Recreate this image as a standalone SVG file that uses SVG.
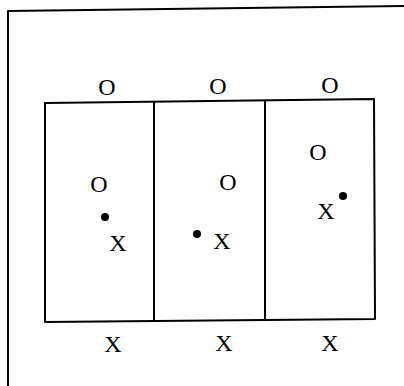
<svg xmlns="http://www.w3.org/2000/svg" width="404" height="386" viewBox="0 0 404 386">
<style>
.ln{fill:none;stroke:#000;stroke-width:2;stroke-linejoin:round}
.t{font-family:"Liberation Serif",serif;font-size:24px;fill:#000;text-anchor:middle}
.d{fill:#000}
</style>
<rect width="404" height="386" fill="#fff"/>
<g id="frame">
<polyline class="ln" points="8,386 8,11 404,6"/>
</g>
<g id="box">
<polygon class="ln" points="45,103 374,99 375,319 45,322"/>
</g>
<g id="connectors">
<line class="ln" x1="154" y1="102" x2="154" y2="321"/>
<line class="ln" x1="265" y1="100" x2="265" y2="320"/>
</g>
<g id="top-labels">
<text class="t" x="107" y="95">O</text>
<text class="t" x="218" y="94">O</text>
<text class="t" x="330" y="93">O</text>
</g>
<g id="cell1">
<text class="t" x="99" y="192">O</text>
<circle class="d" cx="105" cy="217" r="4"/>
<text class="t" x="118" y="251">X</text>
</g>
<g id="cell2">
<text class="t" x="228" y="190">O</text>
<circle class="d" cx="197" cy="234" r="4"/>
<text class="t" x="222" y="249">X</text>
</g>
<g id="cell3">
<text class="t" x="318" y="160">O</text>
<circle class="d" cx="343" cy="196" r="4"/>
<text class="t" x="326" y="219">X</text>
</g>
<g id="bottom-labels">
<text class="t" x="113" y="352">X</text>
<text class="t" x="224" y="351">X</text>
<text class="t" x="330" y="351">X</text>
</g>
</svg>
